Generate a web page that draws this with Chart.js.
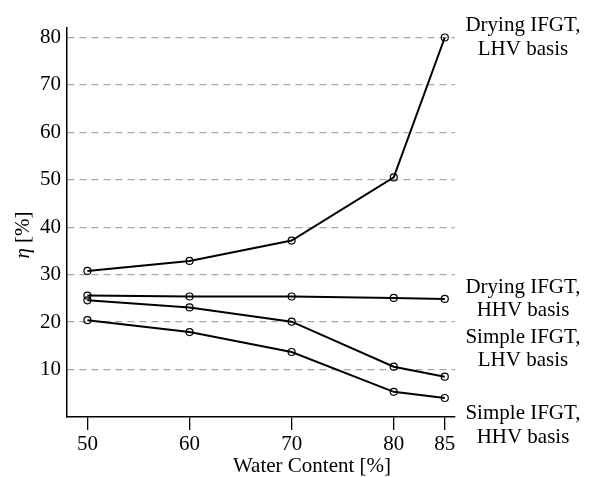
<!DOCTYPE html>
<html>
<head>
<meta charset="utf-8">
<script src="https://cdn.jsdelivr.net/npm/chart.js@4.4.1/dist/chart.umd.min.js"></script>
<style>
  html, body { margin: 0; padding: 0; background: #fff; }
  #wrap { width: 589px; height: 477px; }
</style>
</head>
<body>
<div id="wrap"><canvas id="effChart" width="589" height="477"></canvas></div>
<script>
const waterContent = [50, 60, 70, 80, 85];
const dryingLHV = [30.8, 32.9, 37.2, 50.5, 80.0];
const dryingHHV = [25.6, 25.4, 25.4, 25.1, 24.9];
const simpleLHV = [24.6, 23.1, 20.1, 10.6, 8.5];
const simpleHHV = [20.4, 17.9, 13.7, 5.3, 4.0];
const xTicks = [50, 60, 70, 80, 85];
const yTicks = [10, 20, 30, 40, 50, 60, 70, 80];
const seriesLabels = [
  ["Drying IFGT,", "LHV basis"],
  ["Drying IFGT,", "HHV basis"],
  ["Simple IFGT,", "LHV basis"],
  ["Simple IFGT,", "HHV basis"]
];
const xTitle = "Water Content [%]";
const yTitleSymbol = "η";
const yTitleUnit = " [%]";

const serif = "'Liberation Serif', 'DejaVu Serif', serif";

function toPoints(values) {
  return values.map((v, i) => ({ x: waterContent[i], y: v }));
}

function makeSeries(label, values) {
  return {
    label: label,
    data: toPoints(values),
    borderColor: "#000",
    borderWidth: 2,
    tension: 0,
    pointRadius: 3.5,
    pointBorderWidth: 1.2,
    pointBorderColor: "#000",
    pointBackgroundColor: "rgba(0,0,0,0)"
  };
}

// labels at the right of the line ends, plus the two axis titles
const textLayer = {
  id: "textLayer",
  afterDraw(chart) {
    const ctx = chart.ctx;
    const x = chart.chartArea.right + 68;
    const centres = [[25, 49], [287, 310], [337, 360], [413, 437]];
    ctx.save();
    ctx.fillStyle = "#000";
    ctx.font = "21px " + serif;
    ctx.textAlign = "center";
    ctx.textBaseline = "middle";
    seriesLabels.forEach((lines, i) => {
      lines.forEach((t, j) => ctx.fillText(t, x, centres[i][j]));
    });

    // x title
    ctx.fillText(xTitle, 312, 466);

    // y title, rotated, italic eta
    ctx.translate(23, 235);
    ctx.rotate(-Math.PI / 2);
    ctx.textAlign = "left";
    ctx.font = "italic 21px " + serif;
    const w1 = ctx.measureText(yTitleSymbol).width;
    ctx.font = "21px " + serif;
    const w2 = ctx.measureText(yTitleUnit).width;
    const start = -(w1 + w2) / 2;
    ctx.font = "italic 21px " + serif;
    ctx.fillText(yTitleSymbol, start, 0);
    ctx.font = "21px " + serif;
    ctx.fillText(yTitleUnit, start + w1, 0);
    ctx.restore();
  }
};

new Chart(document.getElementById("effChart"), {
  type: "line",
  data: {
    datasets: [
      makeSeries(seriesLabels[0].join(" "), dryingLHV),
      makeSeries(seriesLabels[1].join(" "), dryingHHV),
      makeSeries(seriesLabels[2].join(" "), simpleLHV),
      makeSeries(seriesLabels[3].join(" "), simpleHHV)
    ]
  },
  options: {
    responsive: false,
    animation: false,
    layout: { padding: { left: 0, top: 28, right: 134, bottom: 0 } },
    plugins: {
      legend: { display: false },
      tooltip: { enabled: false }
    },
    scales: {
      x: {
        type: "linear",
        min: 48,
        max: 86,
        afterBuildTicks: (scale) => { scale.ticks = xTicks.map(v => ({ value: v })); },
        afterFit: (scale) => { scale.height = 60; },
        border: { color: "#000", width: 1.5 },
        grid: { drawOnChartArea: false, drawTicks: true, tickLength: 13, color: "#000", lineWidth: 1.3 },
        ticks: { color: "#000", font: { family: serif, size: 21 }, padding: 2, maxRotation: 0 }
      },
      y: {
        min: 0,
        max: 82,
        afterBuildTicks: (scale) => { scale.ticks = yTicks.map(v => ({ value: v })); },
        afterFit: (scale) => { scale.width = 67; },
        // in v4 border.dash also sets the dash of the grid lines
        border: { color: "#000", width: 1.5, dash: [7, 5] },
        grid: { drawTicks: false, color: "#a8a8a8", lineWidth: 1.3 },
        ticks: { color: "#000", font: { family: serif, size: 21 }, padding: 6 }
      }
    }
  },
  plugins: [textLayer]
});
</script>
</body>
</html>
